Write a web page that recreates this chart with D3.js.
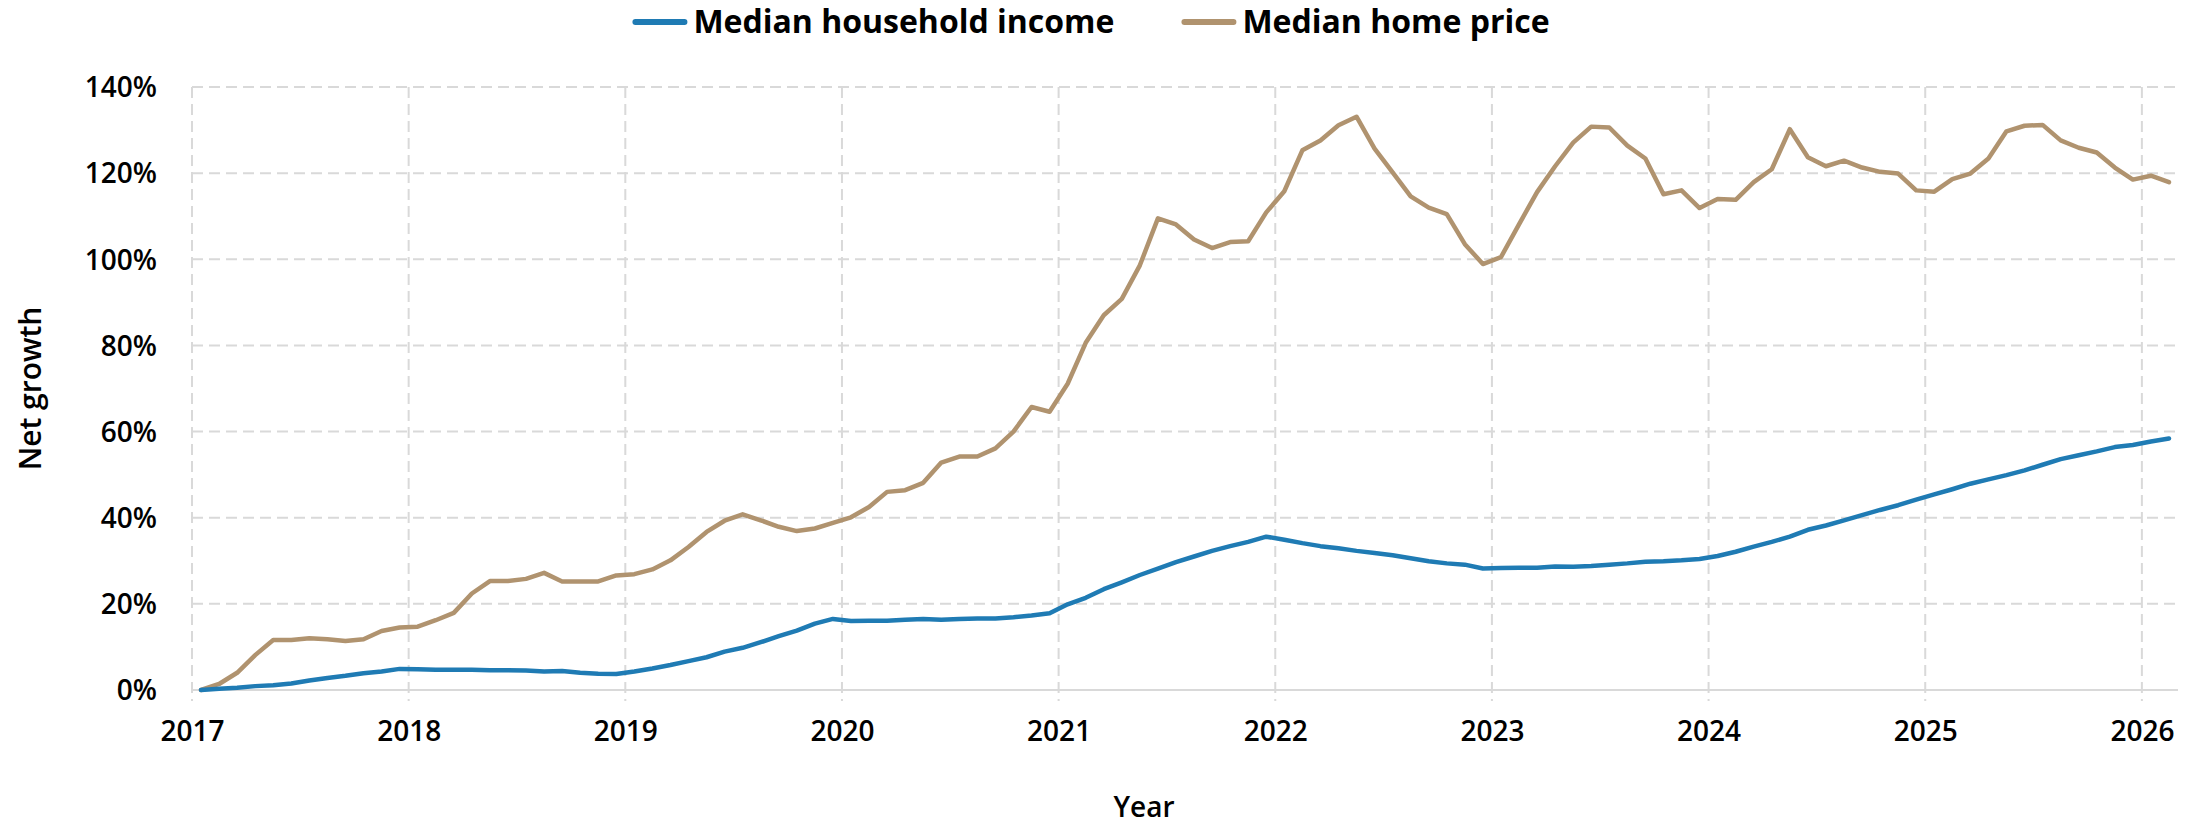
<!DOCTYPE html>
<html>
<head>
<meta charset="utf-8">
<script src="https://cdn.jsdelivr.net/npm/d3@7"></script>
<style>
  body { margin: 0; background: #fff; }
  text { font-family: "Open Sans", "Noto Sans", sans-serif; fill: #000; }
</style>
</head>
<body>
<svg id="chart" width="2208" height="827"></svg>
<script>
// monthly net growth (%) since Jan 2017, one row per year
var seriesNames = ['Median household income', 'Median home price'];
var seriesColors = ['#1f7bb4', '#b0936f'];

var incomeGrowth = [
  0, 0.3, 0.5, 0.9, 1.1, 1.5, 2.2, 2.8, 3.3, 3.9, 4.3, 4.9,
  4.8, 4.7, 4.7, 4.7, 4.6, 4.6, 4.5, 4.3, 4.4, 4.0, 3.8, 3.7,
  4.3, 5.0, 5.8, 6.7, 7.6, 8.9, 9.8, 11.1, 12.5, 13.8, 15.4, 16.5,
  16.0, 16.1, 16.1, 16.3, 16.5, 16.3, 16.5, 16.6, 16.6, 16.9, 17.3, 17.8,
  19.9, 21.4, 23.4, 25.0, 26.7, 28.2, 29.7, 31.0, 32.3, 33.4, 34.4, 35.6,
  34.9, 34.1, 33.4, 32.9, 32.3, 31.8, 31.3, 30.6, 29.9, 29.4, 29.1, 28.2,
  28.3, 28.4, 28.4, 28.7, 28.6, 28.8, 29.1, 29.4, 29.8, 29.9, 30.1, 30.4,
  31.1, 32.1, 33.3, 34.4, 35.6, 37.2, 38.2, 39.4, 40.6, 41.8, 42.9, 44.2,
  45.4, 46.6, 47.9, 48.9, 49.9, 51.0, 52.3, 53.6, 54.5, 55.4, 56.4, 56.9,
  57.7, 58.4
];

var homePriceGrowth = [
  0, 1.4, 4.0, 8.1, 11.6, 11.6, 12.0, 11.8, 11.4, 11.8, 13.7, 14.5,
  14.7, 16.2, 17.9, 22.4, 25.3, 25.3, 25.8, 27.2, 25.2, 25.2, 25.2, 26.6,
  26.9, 28.0, 30.1, 33.2, 36.7, 39.3, 40.8, 39.4, 37.9, 36.9, 37.5, 38.8,
  40.1, 42.5, 46.0, 46.4, 48.1, 52.8, 54.2, 54.2, 56.1, 60.0, 65.7, 64.6,
  71.1, 80.6, 87.0, 90.8, 98.6, 109.5, 108.1, 104.6, 102.6, 104.0, 104.2, 110.9,
  115.8, 125.3, 127.6, 131.1, 133.1, 125.7, 120.2, 114.6, 112.0, 110.5, 103.5, 98.9,
  100.5, 108.1, 115.6, 121.6, 127.1, 130.8, 130.6, 126.4, 123.4, 115.1, 116.0, 111.9,
  114.0, 113.8, 117.9, 120.9, 130.2, 123.7, 121.6, 122.9, 121.3, 120.3, 119.9, 116.0,
  115.7, 118.6, 119.9, 123.4, 129.7, 131.0, 131.2, 127.6, 125.9, 124.8, 121.3, 118.5,
  119.4, 117.9
];

var yearTicks = [2017, 2018, 2019, 2020, 2021, 2022, 2023, 2024, 2025, 2026];
var percentTicks = [0, 20, 40, 60, 80, 100, 120, 140];

var startYear = 2017;
var svg = d3.select('#chart');

var x = d3.scaleLinear().domain([2017, 2026 + 2 / 12]).range([192, 2178]);
var y = d3.scaleLinear().domain([0, 140]).range([690, 87]);

// month i sits in the middle of its month
function monthPos(i) {
    return startYear + (i + 0.5) / 12;
}

var grid = svg.append('g');

grid.selectAll('.hgrid').data(percentTicks).enter()
    .append('line')
    .attr('x1', x.range()[0])
    .attr('x2', x.range()[1])
    .attr('y1', function(d) { return y(d); })
    .attr('y2', function(d) { return y(d); })
    .attr('stroke', '#d9d9d9')
    .attr('stroke-width', 2)
    .attr('stroke-dasharray', function(d) { return d === 0 ? null : '11,6'; });

grid.selectAll('.vgrid').data(yearTicks).enter()
    .append('line')
    .attr('x1', function(d) { return x(d); })
    .attr('x2', function(d) { return x(d); })
    .attr('y1', y(140))
    .attr('y2', y(0) + 11)
    .attr('stroke', '#d9d9d9')
    .attr('stroke-width', 2)
    .attr('stroke-dasharray', '11,6');

// axes, drawn with d3-axis and then stripped of domain/ticks
var yAxis = svg.append('g')
    .attr('transform', 'translate(' + (x.range()[0] - 35) + ',0)')
    .call(d3.axisLeft(y).tickValues(percentTicks).tickSize(0)
        .tickFormat(function(d) { return d + '%'; }));

var xAxis = svg.append('g')
    .attr('transform', 'translate(0,' + 721 + ')')
    .call(d3.axisBottom(x).tickValues(yearTicks).tickSize(0)
        .tickFormat(d3.format('d')));

svg.selectAll('.domain').remove();
svg.selectAll('.tick text')
    .style('font-family', '"Open Sans", "Noto Sans", sans-serif')
    .style('font-size', '28px')
    .style('font-weight', 600)
    .attr('fill', '#000');
yAxis.selectAll('.tick text').attr('x', 0).attr('dy', '0.35em');
xAxis.selectAll('.tick text').attr('y', 0).attr('dy', '0.71em');

svg.append('text')
    .attr('x', 1144)
    .attr('y', 817)
    .attr('text-anchor', 'middle')
    .style('font-size', '28px')
    .style('font-weight', 600)
    .text('Year');

svg.append('text')
    .attr('transform', 'translate(30,' + ((y(0) + y(140)) / 2) + ') rotate(-90)')
    .attr('dy', '0.35em')
    .attr('text-anchor', 'middle')
    .style('font-size', '30px')
    .style('font-weight', 600)
    .text('Net growth');

var line = d3.line()
    .x(function(d, i) { return x(monthPos(i)); })
    .y(function(d) { return y(d); });

[homePriceGrowth, incomeGrowth].forEach(function(values, k) {
    svg.append('path')
        .datum(values)
        .attr('d', line)
        .attr('fill', 'none')
        .attr('stroke', k === 0 ? seriesColors[1] : seriesColors[0])
        .attr('stroke-width', 4.5)
        .attr('stroke-linejoin', 'round')
        .attr('stroke-linecap', 'round');
});

// legend across the top, centred
var legend = svg.append('g');
var items = legend.selectAll('g').data(seriesNames).enter().append('g');

items.append('line')
    .attr('x1', 3).attr('x2', 52)
    .attr('y1', 0).attr('y2', 0)
    .attr('stroke', function(d, i) { return seriesColors[i]; })
    .attr('stroke-width', 6)
    .attr('stroke-linecap', 'round');

items.append('text')
    .attr('x', 61)
    .attr('dy', '0.35em')
    .style('font-size', '32px')
    .style('font-weight', 700)
    .text(function(d) { return d; });

var offset = 0;
items.each(function() {
    var w = 61 + d3.select(this).select('text').node().getComputedTextLength();
    d3.select(this).attr('transform', 'translate(' + offset + ',0)');
    offset = offset + w + 67;
});
var legendWidth = offset - 67;
legend.attr('transform', 'translate(' + (1091 - legendWidth / 2) + ',22)');
</script>
</body>
</html>
